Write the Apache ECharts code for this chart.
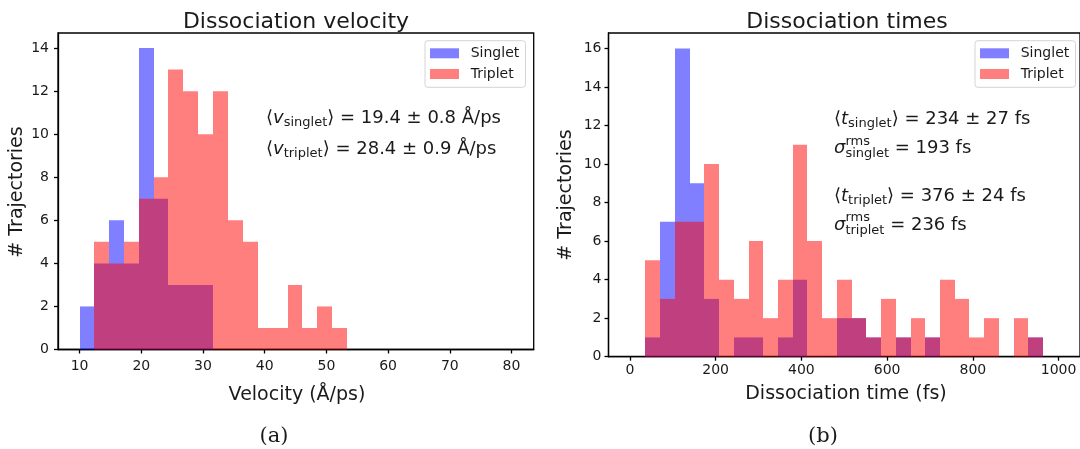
<!DOCTYPE html>
<html><head><meta charset="utf-8">
<script src="https://cdn.jsdelivr.net/npm/echarts@6/dist/echarts.min.js"></script>
<style>html,body{margin:0;padding:0;background:#fff}#c{width:1080px;height:449px}</style>
</head><body><div id="c"></div>
<script>
// ---- data ----
const velocityEdges = [10.0, 12.4, 14.8, 17.2, 19.6, 22.0, 24.4, 26.8, 29.2, 31.7, 34.1, 36.5, 38.9, 41.3, 43.7, 46.1, 48.5, 50.9, 53.3];
const velocitySinglet = [2, 4, 6, 4, 14, 7, 3, 3, 3, 0, 0, 0, 0, 0, 0, 0, 0, 0];
const velocityTriplet = [0, 5, 4, 5, 7, 8, 13, 12, 10, 12, 6, 5, 1, 1, 3, 1, 2, 1];
const timeEdges = [36.3, 70.6, 105.0, 139.4, 173.7, 208.0, 242.4, 276.7, 311.1, 345.5, 379.8, 414.2, 448.5, 482.8, 517.2, 551.5, 585.9, 620.3, 654.6, 689.0, 723.3, 757.6, 792.0, 826.4, 860.7, 895.1, 929.4, 963.8];
const timeSinglet = [1, 7, 16, 9, 3, 0, 1, 1, 0, 1, 4, 0, 0, 2, 2, 1, 0, 1, 0, 1, 0, 0, 0, 0, 0, 0, 1];
const timeTriplet = [5, 3, 7, 7, 10, 4, 3, 6, 2, 4, 11, 6, 2, 4, 2, 1, 3, 1, 2, 1, 4, 3, 1, 2, 0, 2, 1];
const velocityTicks = [10, 20, 30, 40, 50, 60, 70, 80];
const timeTicks = [0, 200, 400, 600, 800, 1000];
const velocityCountTicks = [0, 2, 4, 6, 8, 10, 12, 14];
const timeCountTicks = [0, 2, 4, 6, 8, 10, 12, 14, 16];

// ---- helpers ----
function bins(edges, counts) {
  const out = [];
  counts.forEach((c, i) => { if (c > 0) out.push([edges[i], edges[i + 1], c]); });
  return out;
}
function renderBin(params, api) {
  const p0 = api.coord([api.value(0), api.value(2)]);
  const p1 = api.coord([api.value(1), 0]);
  const x0 = Math.round(p0[0]), x1 = Math.round(p1[0]);
  return { type: 'rect', shape: { x: x0, y: p0[1], width: x1 - x0, height: p1[1] - p0[1] }, style: api.style() };
}
const FONT = 'DejaVu Sans';
const TXT = '#1a1a1a';
const BLUE = 'rgba(0,0,255,0.5)';
const RED = 'rgba(255,0,0,0.5)';

const ctx = document.createElement('canvas').getContext('2d');
function measure(t, s, it) { ctx.font = (it ? 'italic ' : '') + s + 'px "' + FONT + '"'; return ctx.measureText(t).width; }
function mathLine(x, y, parts) {
  const els = []; let cx = x;
  parts.forEach(p => {
    els.push({ type: 'text', x: cx, y: y + (p.dy || 0), silent: true,
      style: { text: p.t, fontSize: p.s, fontFamily: FONT, fontStyle: p.i ? 'italic' : 'normal', fill: TXT, align: 'left', verticalAlign: 'middle' } });
    if (!p.stay) cx += measure(p.t, p.s, p.i) + (p.gap || 0);
  });
  return els;
}
function txt(x, y, t, size, family, extra) {
  return Object.assign({ type: 'text', x: x, y: y, silent: true,
    style: { text: t, fontSize: size, fontFamily: family || FONT, fill: TXT, align: 'center', verticalAlign: 'middle' } }, extra || {});
}

const M = 18, S = 13, SUB = 4.5, SUP = -7;

function axisX(grid, min, max, ticks, margin) {
  return { type: 'value', gridIndex: grid, min: min, max: max,
    axisLine: { show: true, onZero: false, lineStyle: { color: '#000', width: 1.3 } },
    axisTick: { show: true, length: 4, customValues: ticks, lineStyle: { color: '#000', width: 1.3 } },
    axisLabel: { customValues: ticks, margin: margin, fontSize: 14, color: TXT, fontFamily: FONT, formatter: v => String(v) },
    splitLine: { show: false } };
}
function axisY(grid, max, ticks, margin) {
  return { type: 'value', gridIndex: grid, min: 0, max: max,
    axisLine: { show: true, onZero: false, lineStyle: { color: '#000', width: 1.3 } },
    axisTick: { show: true, length: 4, customValues: ticks, lineStyle: { color: '#000', width: 1.3 } },
    axisLabel: { customValues: ticks, margin: margin, fontSize: 14, color: TXT, fontFamily: FONT, formatter: v => String(v) },
    splitLine: { show: false } };
}
function legendAt(left) {
  return { orient: 'vertical', left: left, top: 40.7, data: ['Singlet', 'Triplet'], icon: 'rect',
    itemWidth: 29, itemHeight: 10, itemGap: 6.7, selectedMode: false,
    padding: [5.6, 6.3, 6.3, 5], backgroundColor: 'rgba(255,255,255,0.8)',
    borderColor: '#d4d4d4', borderWidth: 1, borderRadius: 3,
    textStyle: { fontSize: 14, lineHeight: 14, color: TXT, fontFamily: FONT, padding: [0, 0, 0, 6.7] } };
}

const graphics = [].concat(
  [txt(296, 22, 'Dissociation velocity', 22), txt(847, 22, 'Dissociation times', 22),
   txt(17, 192, '# Trajectories', 19, FONT, { rotation: Math.PI / 2 }),
   txt(566, 195, '# Trajectories', 19, FONT, { rotation: Math.PI / 2 }),
   txt(297, 395, 'Velocity (Å/ps)', 19), txt(846, 394, 'Dissociation time (fs)', 19),
   txt(274, 437, '(a)', 21, 'DejaVu Serif'),
   txt(823, 437, '(b)', 21, 'DejaVu Serif')],
  mathLine(266, 118, [{ t: '⟨', s: M }, { t: 'v', s: M, i: true }, { t: 'singlet', s: S, dy: SUB }, { t: '⟩ = 19.4 ± 0.8 Å/ps', s: M }]),
  mathLine(266, 149, [{ t: '⟨', s: M }, { t: 'v', s: M, i: true }, { t: 'triplet', s: S, dy: SUB }, { t: '⟩ = 28.4 ± 0.9 Å/ps', s: M }]),
  mathLine(834, 119.5, [{ t: '⟨', s: M }, { t: 't', s: M, i: true }, { t: 'singlet', s: S, dy: SUB }, { t: '⟩ = 234 ± 27 fs', s: M }]),
  mathLine(834, 148.5, [{ t: 'σ', s: M, i: true }, { t: 'rms', s: S, dy: SUP, stay: true }, { t: 'singlet', s: S, dy: SUB + 1 }, { t: ' = 193 fs', s: M }]),
  mathLine(834, 196.5, [{ t: '⟨', s: M }, { t: 't', s: M, i: true }, { t: 'triplet', s: S, dy: SUB }, { t: '⟩ = 376 ± 24 fs', s: M }]),
  mathLine(834, 225, [{ t: 'σ', s: M, i: true }, { t: 'rms', s: S, dy: SUP, stay: true }, { t: 'triplet', s: S, dy: SUB + 1 }, { t: ' = 236 fs', s: M }])
);

const chart = echarts.init(document.getElementById('c'), null, { renderer: 'canvas' });
chart.setOption({
  animation: false,
  backgroundColor: '#fff',
  grid: [
    { left: 58, top: 33, width: 475.7, height: 316.5, show: true, borderColor: '#000', borderWidth: 1.3, backgroundColor: 'transparent' },
    { left: 608.5, top: 33, width: 475.5, height: 323.7, show: true, borderColor: '#000', borderWidth: 1.3, backgroundColor: 'transparent' }
  ],
  xAxis: [axisX(0, 6.5, 83.6, velocityTicks, 9.5), axisX(1, -50, 1050, timeTicks, 7)],
  yAxis: [axisY(0, 14.7, velocityCountTicks, 9), axisY(1, 16.8, timeCountTicks, 7)],
  legend: [legendAt(425), legendAt(975)],
  series: [
    { name: 'Singlet', type: 'custom', xAxisIndex: 0, yAxisIndex: 0, renderItem: renderBin, encode: { x: [0, 1], y: 2 }, itemStyle: { color: BLUE }, data: bins(velocityEdges, velocitySinglet) },
    { name: 'Triplet', type: 'custom', xAxisIndex: 0, yAxisIndex: 0, renderItem: renderBin, encode: { x: [0, 1], y: 2 }, itemStyle: { color: RED }, data: bins(velocityEdges, velocityTriplet) },
    { name: 'Singlet', type: 'custom', xAxisIndex: 1, yAxisIndex: 1, renderItem: renderBin, encode: { x: [0, 1], y: 2 }, itemStyle: { color: BLUE }, data: bins(timeEdges, timeSinglet) },
    { name: 'Triplet', type: 'custom', xAxisIndex: 1, yAxisIndex: 1, renderItem: renderBin, encode: { x: [0, 1], y: 2 }, itemStyle: { color: RED }, data: bins(timeEdges, timeTriplet) }
  ],
  graphic: graphics
});
</script></body></html>
